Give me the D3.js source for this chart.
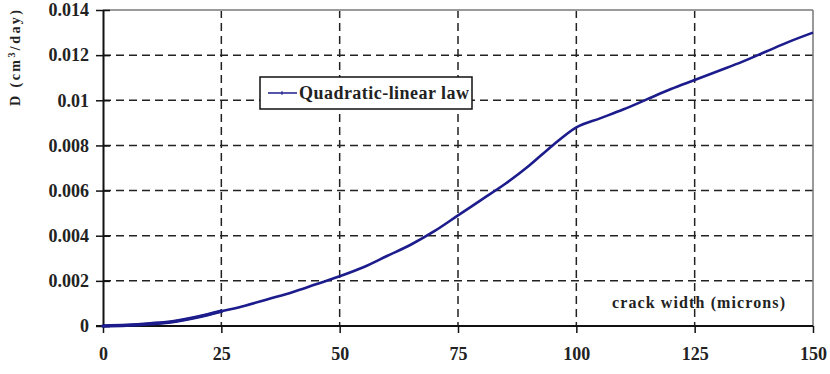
<!DOCTYPE html>
<html>
<head>
<meta charset="utf-8">
<script src="https://cdn.jsdelivr.net/npm/d3@7"></script>
<style>
  body { margin: 0; background: #fff; }
  svg { display: block; }
  text { font-family: "Liberation Serif", "Times New Roman", serif; fill: #222; }
</style>
</head>
<body>
<svg id="chart" width="830" height="374"></svg>
<script>
// crack width (microns) vs D (cm3/day)
const crackWidth = [0, 5, 10, 15, 20, 25, 30, 35, 40, 45, 50, 55, 60, 65, 70, 75,
  80, 85, 90, 95, 100, 105, 110, 115, 120, 125, 130, 135, 140, 145, 150];
const flowD = [0, 0.00003, 0.0001, 0.0002, 0.0004, 0.00065, 0.0009, 0.0012, 0.0015,
  0.00185, 0.0022, 0.0026, 0.0031, 0.0036, 0.0042, 0.0049, 0.0056, 0.0063, 0.0071,
  0.0080, 0.0088, 0.0092, 0.0096, 0.01005, 0.0105, 0.0109, 0.0113, 0.0117, 0.01215,
  0.0126, 0.0130];
const xTicks = [0, 25, 50, 75, 100, 125, 150];
const yTicks = [0, 0.002, 0.004, 0.006, 0.008, 0.01, 0.012, 0.014];
const seriesName = "Quadratic-linear law";

const svg = d3.select("#chart");
const plotL = 103, plotR = 813, plotT = 10, plotB = 326;

const x = d3.scaleLinear().domain([0, 150]).range([plotL, plotR]);
const y = d3.scaleLinear().domain([0, 0.014]).range([plotB, plotT]);

// dashed grid
const grid = svg.append("g")
  .attr("stroke", "#222")
  .attr("stroke-width", 1.5)
  .attr("stroke-dasharray", "8,5");

grid.selectAll(".gy")
  .data(yTicks.filter((d) => d > 0 && d < 0.014))
  .enter().append("line")
  .attr("x1", plotL).attr("x2", plotR)
  .attr("y1", (d) => y(d)).attr("y2", (d) => y(d));

grid.selectAll(".gx")
  .data(xTicks.filter((d) => d > 0 && d < 150))
  .enter().append("line")
  .attr("y1", plotT).attr("y2", plotB)
  .attr("x1", (d) => x(d)).attr("x2", (d) => x(d));

// frame: gray top, right border
svg.append("line")
  .attr("x1", plotL).attr("x2", plotR)
  .attr("y1", plotT).attr("y2", plotT)
  .attr("stroke", "#9a9a9a").attr("stroke-width", 2);

svg.append("line")
  .attr("x1", plotR).attr("x2", plotR)
  .attr("y1", plotT).attr("y2", plotB)
  .attr("stroke", "#777").attr("stroke-width", 1.5);

// axes
const yAxis = d3.axisLeft(y)
  .tickValues(yTicks)
  .tickFormat((d) => d === 0 ? "0" : String(+d.toFixed(3)))
  .tickSizeInner(7)
  .tickSizeOuter(0)
  .tickPadding(7);

const yg = svg.append("g")
  .attr("transform", "translate(" + plotL + ",0)")
  .call(yAxis);
yg.select(".domain").attr("stroke", "#111").attr("stroke-width", 2);
yg.selectAll(".tick line").attr("stroke", "#111").attr("stroke-width", 1.5)
  .attr("x2", 7).attr("x1", -7);
yg.selectAll(".tick text")
  .style("font-family", "Liberation Serif, serif")
  .style("font-size", "18px").style("font-weight", "bold").attr("fill", "#1f1f30");

const xAxis = d3.axisBottom(x)
  .tickValues(xTicks)
  .tickFormat(d3.format("d"))
  .tickSizeInner(7)
  .tickSizeOuter(0)
  .tickPadding(14);

const xg = svg.append("g")
  .attr("transform", "translate(0," + plotB + ")")
  .call(xAxis);
xg.select(".domain").attr("stroke", "#111").attr("stroke-width", 2)
  .attr("d", "M" + (plotL - 7) + ",0H" + plotR);
xg.selectAll(".tick line").attr("stroke", "#111").attr("stroke-width", 1.5);
xg.selectAll(".tick text")
  .style("font-family", "Liberation Serif, serif")
  .style("font-size", "18px").style("font-weight", "bold").attr("fill", "#1f1f30");

// curve (a little thicker near the origin, as in the source)
const pts = crackWidth.map((c, i) => [c, flowD[i]]);
const line = d3.line().x((d) => x(d[0])).y((d) => y(d[1])).curve(d3.curveMonotoneX);
svg.append("path")
  .datum(pts.filter((d) => d[0] <= 25))
  .attr("fill", "none")
  .attr("stroke", "#1c1c8c")
  .attr("stroke-width", 3.6)
  .attr("stroke-linecap", "round")
  .attr("d", line);
svg.append("path")
  .datum(pts)
  .attr("fill", "none")
  .attr("stroke", "#1c1c8c")
  .attr("stroke-width", 2.6)
  .attr("d", line);

// legend
const lg = svg.append("g");
lg.append("rect")
  .attr("x", 260).attr("y", 77).attr("width", 212).attr("height", 32)
  .attr("fill", "#fff").attr("stroke", "#111").attr("stroke-width", 1.5);
lg.append("line")
  .attr("x1", 268).attr("x2", 297).attr("y1", 93).attr("y2", 93)
  .attr("stroke", "#1c1c8c").attr("stroke-width", 1.5);
lg.append("line")
  .attr("x1", 282).attr("x2", 282).attr("y1", 91).attr("y2", 95)
  .attr("stroke", "#1c1c8c").attr("stroke-width", 1);
lg.append("text")
  .attr("x", 299).attr("y", 99)
  .style("font-size", "18px").style("font-weight", "bold")
  .attr("textLength", 170)
  .text(seriesName);

// axis titles
svg.append("text")
  .attr("x", 612).attr("y", 308)
  .style("font-size", "16px").style("font-weight", "bold")
  .attr("textLength", 173)
  .text("crack width (microns)");

svg.append("text")
  .attr("transform", "translate(20,58) rotate(-90)")
  .attr("text-anchor", "middle")
  .style("font-size", "14px").style("font-weight", "bold")
  .attr("textLength", 96)
  .html("D (cm<tspan dy='-5' font-size='10px'>3</tspan><tspan dy='5'>/day)</tspan>");
</script>
</body>
</html>
